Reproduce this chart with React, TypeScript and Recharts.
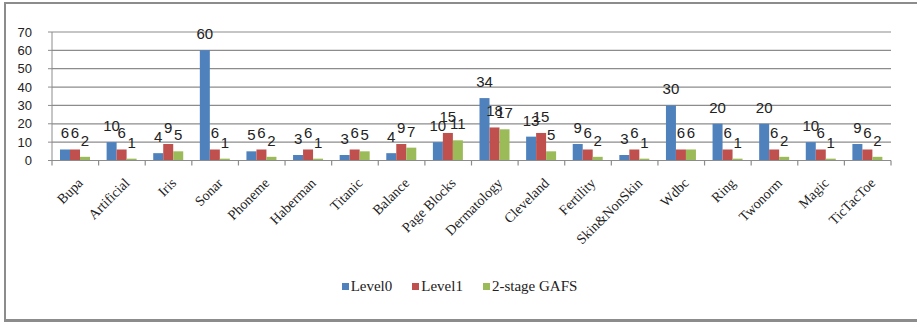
import React from 'react';
import { BarChart, Bar, XAxis, YAxis, CartesianGrid, Legend, LabelList } from 'recharts';

const datasets = [
  'Bupa', 'Artificial', 'Iris', 'Sonar', 'Phoneme', 'Haberman', 'Titanic', 'Balance', 'Page Blocks',
  'Dermatology', 'Cleveland', 'Fertility', 'Skin&NonSkin', 'Wdbc', 'Ring', 'Twonorm', 'Magic', 'TicTacToe',
];
const level0 = [6, 10, 4, 60, 5, 3, 3, 4, 10, 34, 13, 9, 3, 30, 20, 20, 10, 9];
const level1 = [6, 6, 9, 6, 6, 6, 6, 9, 15, 18, 15, 6, 6, 6, 6, 6, 6, 6];
const gafs = [2, 1, 5, 1, 2, 1, 5, 7, 11, 17, 5, 2, 1, 6, 1, 2, 1, 2];
const seriesNames = ['Level0', 'Level1', '2-stage GAFS'];
const yTicks = [0, 10, 20, 30, 40, 50, 60, 70];

const data = datasets.map((name, i) => ({
  name,
  level0: level0[i],
  level1: level1[i],
  gafs: gafs[i],
}));

const GREY = '#8c8c8c';
const serif = "'Liberation Serif', 'Times New Roman', serif";
const sans = "'Liberation Sans', Arial, sans-serif";

const WIDTH = 917;
const HEIGHT = 322;
const MARGIN = { top: 32, right: 26, left: 12, bottom: 26 };
const Y_AXIS_W = 40;
const TICK = 5;
const BAND = (WIDTH - MARGIN.left - MARGIN.right - Y_AXIS_W) / datasets.length;

// rotated dataset name, plus the tick mark on the category's left edge
// (and the right edge for the last one)
const DatasetTick = (props: any) => {
  const x = Number(props.x);
  const y = Number(props.y);
  const { payload, index } = props;
  const left = x - BAND / 2;
  const right = x + BAND / 2;
  return (
    <g>
      <line x1={left} x2={left} y1={y - TICK} y2={y} stroke={GREY} strokeWidth={1.2} />
      {index === datasets.length - 1 && (
        <line x1={right} x2={right} y1={y - TICK} y2={y} stroke={GREY} strokeWidth={1.2} />
      )}
      <g transform={`translate(${x + 5},${y + 15})`}>
        <text transform="rotate(-45)" textAnchor="end" dy="0.35em" fontFamily={serif} fontSize={14} fill="#222">
          {payload.value}
        </text>
      </g>
    </g>
  );
};

const LegendRow = ({ payload }: any) => {
  const items = [...(payload || [])].sort(
    (a: any, b: any) => seriesNames.indexOf(a.value) - seriesNames.indexOf(b.value),
  );
  return (
    <div
      style={{
        display: 'flex',
        justifyContent: 'center',
        alignItems: 'center',
        gap: 20,
        height: 20,
        paddingLeft: 16,
        fontFamily: serif,
        fontSize: 15,
        color: '#222',
      }}
    >
      {items.map((entry: any) => (
        <span key={entry.value} style={{ display: 'flex', alignItems: 'center' }}>
          <span style={{ width: 7, height: 7, background: entry.color, marginRight: 2 }} />
          {entry.value}
        </span>
      ))}
    </div>
  );
};

export default function App() {
  return (
    <div style={{ position: 'absolute', top: 0, left: 0, width: WIDTH, height: HEIGHT, overflow: 'hidden', background: '#fff' }}>
      <div
        style={{
          position: 'absolute',
          left: 4,
          top: 2,
          width: 960,
          height: 315,
          borderLeft: `2px solid ${GREY}`,
          borderTop: `2px solid ${GREY}`,
          borderBottom: `3px solid ${GREY}`,
        }}
      />
      <BarChart
        width={WIDTH}
        height={HEIGHT}
        data={data}
        margin={MARGIN}
        barCategoryGap={8}
        barGap={0}
        style={{ position: 'absolute', top: 0, left: 0 }}
      >
        <CartesianGrid vertical={false} stroke={GREY} strokeWidth={1.2} />
        <XAxis
          dataKey="name"
          interval={0}
          height={115.5}
          tickLine={false}
          tickSize={TICK}
          tickMargin={0}
          axisLine={{ stroke: GREY }}
          tick={(p: any) => <DatasetTick {...p} />}
        />
        <YAxis
          domain={[0, 70]}
          ticks={yTicks}
          interval={0}
          width={Y_AXIS_W}
          tickSize={4}
          tickMargin={16}
          axisLine={{ stroke: GREY }}
          tickLine={{ stroke: GREY }}
          tick={{ fontFamily: sans, fontSize: 13, fill: '#222' }}
        />
        <Legend verticalAlign="bottom" content={<LegendRow />} />
        <Bar dataKey="level0" name="Level0" fill="#4f81bd" isAnimationActive={false}>
          <LabelList dataKey="level0" position="top" offset={11} fontFamily={sans} fontSize={15} fill="#222" />
        </Bar>
        <Bar dataKey="level1" name="Level1" fill="#c0504d" isAnimationActive={false}>
          <LabelList dataKey="level1" position="top" offset={11} fontFamily={sans} fontSize={15} fill="#222" />
        </Bar>
        <Bar dataKey="gafs" name="2-stage GAFS" fill="#9bbb59" isAnimationActive={false}>
          <LabelList dataKey="gafs" position="top" offset={11} fontFamily={sans} fontSize={15} fill="#222" />
        </Bar>
      </BarChart>
    </div>
  );
}
